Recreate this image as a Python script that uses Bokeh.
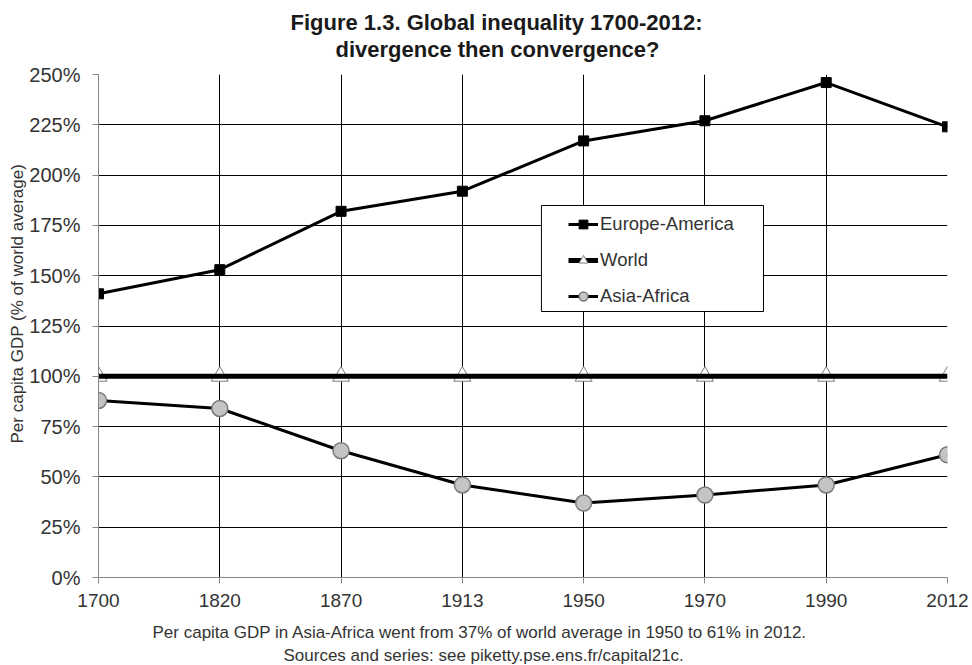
from bokeh.plotting import figure
from bokeh.models import (Range1d, FixedTicker, PrintfTickFormatter, Legend,
                          LegendItem, BoxAnnotation, Title)
from bokeh.embed import file_html
from bokeh.resources import INLINE

# ---- data ----
years = ["1700", "1820", "1870", "1913", "1950", "1970", "1990", "2012"]
europe_america = [141, 153, 182, 192, 217, 227, 246, 224]
world = [100, 100, 100, 100, 100, 100, 100, 100]
asia_africa = [88, 84, 63, 46, 37, 41, 46, 61]
y_ticks = [0, 25, 50, 75, 100, 125, 150, 175, 200, 225, 250]

title_lines = ["Figure 1.3. Global inequality 1700-2012:", "divergence then convergence?"]
y_label = "Per capita GDP (% of world average)"
caption_lines = ["Per capita GDP in Asia-Africa went from 37% of world average in 1950 to 61% in 2012.",
                 "Sources and series: see piketty.pse.ens.fr/capital21c."]

xs = list(range(len(years)))
FONT = "Liberation Sans"
TXT = "#333333"

p = figure(width=972, height=665, output_backend="svg", toolbar_location=None,
           x_range=Range1d(0, len(years) - 1), y_range=Range1d(0, 250),
           min_border_left=98, min_border_right=25, min_border_top=74, min_border_bottom=88)
p.outline_line_color = None
p.background_fill_color = "white"
p.border_fill_color = "white"

# axes
p.xaxis.ticker = FixedTicker(ticks=xs)
p.xaxis.major_label_overrides = {i: y for i, y in enumerate(years)}
p.yaxis.ticker = FixedTicker(ticks=y_ticks)
p.yaxis.formatter = PrintfTickFormatter(format="%d%%")
for ax in (p.xaxis, p.yaxis):
    ax.axis_line_color = "#868686"
    ax.axis_line_width = 1
    ax.major_tick_line_color = "#868686"
    ax.major_tick_out = 6
    ax.major_tick_in = 0
    ax.minor_tick_line_color = None
    ax.major_label_text_font = FONT
    ax.major_label_text_color = TXT
p.xaxis.major_label_text_font_size = "19px"
p.xaxis.major_label_standoff = 10
p.yaxis.major_label_text_font_size = "20px"
p.yaxis.major_label_standoff = 12

p.xgrid.ticker = FixedTicker(ticks=xs)
p.ygrid.ticker = FixedTicker(ticks=y_ticks)
for g in (p.xgrid, p.ygrid):
    g.grid_line_color = "black"
    g.grid_line_width = 1

# series
ea_line = p.line(xs, europe_america, line_color="black", line_width=3)
ea_pts = p.scatter(xs, europe_america, marker="square", size=10, fill_color="black", line_color="black")

w_pts = p.scatter(xs, world, marker="triangle", size=17, fill_color="white", line_color="#7c7c7c", line_width=1)
w_line = p.line(xs, world, line_color="black", line_width=5)

aa_line = p.line(xs, asia_africa, line_color="black", line_width=3)
aa_pts = p.scatter(xs, asia_africa, marker="circle", size=16, fill_color="#c4c4c4", line_color="#7a7a7a", line_width=1.5)

# legend frame
box = BoxAnnotation(left=3.652, right=5.483, bottom=132.2, top=184.9,
                    fill_color="white", fill_alpha=1, line_color="black", line_width=1, line_alpha=1)
p.add_layout(box)

legend = Legend(items=[
    LegendItem(label="Europe-America", renderers=[ea_line, ea_pts]),
    LegendItem(label="World", renderers=[w_line, w_pts]),
    LegendItem(label="Asia-Africa", renderers=[aa_line, aa_pts]),
], location=(470, 270))
legend.border_line_alpha = 0
legend.background_fill_alpha = 0
legend.padding = 0
legend.margin = 0
legend.spacing = 14
legend.glyph_width = 30
legend.glyph_height = 22
legend.label_height = 22
legend.label_standoff = 2
legend.label_text_font = FONT
legend.label_text_font_size = "18.5px"
legend.label_text_color = TXT
p.add_layout(legend)

# title lines (inner line added first); standoffs shift both lines up together
for txt, off, so in [(title_lines[1], 237, 26), (title_lines[0], 192, -26)]:
    p.add_layout(Title(text=txt, align="left", offset=off, standoff=so,
                       text_font=FONT, text_font_size="22px", text_font_style="bold",
                       text_color="#1a1a1a"), "above")

# y axis label
p.add_layout(Title(text=y_label, align="left", offset=134, standoff=0,
                   text_font=FONT, text_font_size="17px", text_font_style="normal",
                   text_color=TXT), "left")

# captions; standoffs shift both lines down together
for txt, off, so in [(caption_lines[0], 54, 23), (caption_lines[1], 185, -20)]:
    p.add_layout(Title(text=txt, align="left", offset=off, standoff=so,
                       text_font=FONT, text_font_size="17px", text_font_style="normal",
                       text_color=TXT), "below")

open("out.html", "w").write(file_html(p, INLINE))
